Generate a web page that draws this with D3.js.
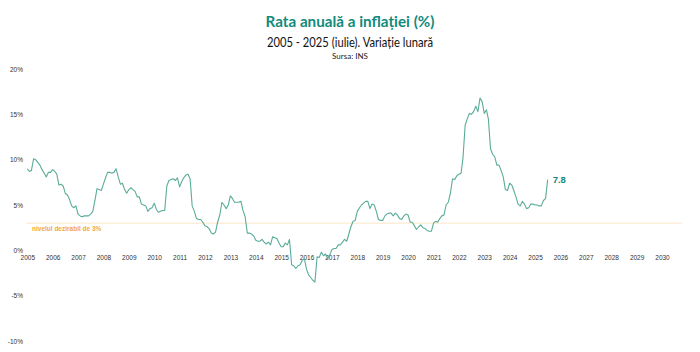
<!DOCTYPE html>
<html>
<head>
<meta charset="utf-8">
<script src="https://cdn.jsdelivr.net/npm/d3@7"></script>
<style>
  body { margin: 0; background: #fff; }
  .axis text { font-family: "Liberation Sans", Arial, sans-serif; font-size: 6.5px; fill: #333; }
</style>
</head>
<body>
<script>
// Chart data: annual inflation rate (%), monthly, Jan 2005 - Jul 2025
const startYear = 2005;
const monthlyRates = [
  9.0, 8.7, 8.8, 10.1, 10.0, 9.7, 9.4, 8.9, 8.5, 8.1, 8.6, 8.6,   // 2005
  8.9, 8.7, 8.4, 7.2, 7.3, 7.1, 6.3, 6.1, 5.6, 4.9, 4.7, 4.9,     // 2006
  4.0, 3.8, 3.7, 3.8, 3.8, 3.8, 4.0, 4.3, 5.5, 6.8, 6.7, 6.6,     // 2007
  7.3, 8.0, 8.6, 8.6, 8.5, 8.6, 9.0, 8.1, 7.3, 7.4, 6.7, 6.3,     // 2008
  6.7, 6.9, 6.7, 6.5, 5.9, 5.9, 5.1, 5.0, 4.9, 4.3, 4.6, 4.7,     // 2009
  5.2, 4.5, 4.2, 4.3, 4.4, 4.4, 7.1, 7.7, 7.8, 7.9, 7.7, 8.0,     // 2010
  7.0, 7.6, 8.0, 8.3, 8.4, 7.9, 4.9, 4.3, 3.5, 3.4, 3.4, 3.1,     // 2011
  2.7, 2.6, 2.4, 1.9, 1.8, 2.0, 3.1, 3.9, 5.3, 5.0, 4.6, 5.0,     // 2012
  6.0, 5.7, 5.3, 5.3, 5.3, 5.4, 4.4, 3.7, 1.9, 1.9, 1.8, 1.6,     // 2013
  1.1, 1.0, 1.0, 1.2, 0.9, 0.7, 0.9, 0.6, 1.5, 1.4, 1.3, 0.8,     // 2014
  0.4, 0.4, 0.8, 0.6, 1.2, -1.6, -1.7, -2.0, -1.7, -1.6, -1.1, -0.9, // 2015
  -2.1, -2.7, -3.0, -3.3, -3.5, -0.7, -0.8, -0.2, -0.6, -0.4, -0.9, -0.5, // 2016
  0.1, 0.2, 0.2, 0.6, 0.6, 0.9, 1.2, 1.0, 1.8, 2.6, 3.2, 3.3,     // 2017
  4.3, 4.7, 5.0, 5.2, 5.4, 5.4, 4.6, 5.1, 5.0, 4.3, 3.4, 3.3,     // 2018
  3.3, 3.8, 4.0, 4.1, 4.1, 3.8, 4.1, 3.9, 3.5, 3.4, 3.8, 4.0,     // 2019
  3.9, 3.1, 3.1, 2.7, 2.3, 2.6, 2.8, 2.5, 2.4, 2.2, 2.1, 2.1,     // 2020
  3.0, 3.2, 3.1, 3.5, 3.8, 3.9, 5.0, 5.3, 6.3, 7.9, 7.8, 8.2,     // 2021
  8.4, 8.5, 10.2, 13.8, 14.5, 15.1, 15.0, 15.3, 15.9, 15.3, 16.8, 16.4, // 2022
  15.1, 15.5, 14.5, 11.2, 10.6, 10.3, 9.4, 9.4, 8.8, 8.1, 6.7, 6.6, // 2023
  7.4, 7.2, 6.6, 5.9, 5.1, 4.9, 5.4, 5.1, 4.6, 4.7, 5.1, 5.1,     // 2024
  5.0, 5.0, 4.9, 4.9, 5.5, 5.7, 7.8                               // 2025
];
const yTicks = [-10, -5, 0, 5, 10, 15, 20];
const xDomainYears = [2005, 2030];
const targetRate = 3;
const targetLabel = "nivelul dezirabil de 3%";
const titleText = "Rata anuală a inflației (%)";
const subtitleText = "2005 - 2025 (iulie). Variație lunară";
const sourceText = "Sursa: INS";

const svgWidth = 700;
const svgHeight = 352;

const teal = "#128a7b";
const lineColor = "#5aac99";
const orange = "#f3a83a";

// Build dated series
const data = monthlyRates.map((v, i) => ({
  date: new Date(startYear + Math.floor(i / 12), i % 12, 1),
  rate: v
}));

const svg = d3.select("body")
  .append("svg")
  .attr("width", svgWidth)
  .attr("height", svgHeight);

// Scales
const xScale = d3.scaleTime()
  .domain(xDomainYears.map(y => new Date(y, 0, 1)))
  .range([27.3, 662]);

const yScale = d3.scaleLinear()
  .domain([-10, 20])
  .range([341, 69]);

// Titles
function fitText(sel, width) {
  sel.attr("textLength", width).attr("lengthAdjust", "spacingAndGlyphs");
}
svg.append("text")
  .attr("x", 350).attr("y", 27)
  .attr("text-anchor", "middle")
  .style("font-family", "Lato, 'Open Sans', sans-serif")
  .style("font-weight", "bold")
  .style("font-size", "15.5px")
  .style("fill", teal)
  .text(titleText)
  .call(fitText, 169);

svg.append("text")
  .attr("x", 350).attr("y", 47)
  .attr("text-anchor", "middle")
  .style("font-family", "Lato, 'Open Sans', sans-serif")
  .style("font-size", "12.5px")
  .style("fill", "#111")
  .text(subtitleText)
  .call(fitText, 166);

svg.append("text")
  .attr("x", 350).attr("y", 59)
  .attr("text-anchor", "middle")
  .style("font-family", "Lato, 'Open Sans', sans-serif")
  .style("font-size", "8px")
  .style("fill", "#222")
  .text(sourceText);

// Target line (3%)
svg.append("line")
  .attr("x1", xScale(new Date(2005, 0, 1)) - 1)
  .attr("x2", 682)
  .attr("y1", yScale(targetRate))
  .attr("y2", yScale(targetRate))
  .attr("stroke", "#fbe6c6")
  .attr("stroke-width", 1);

svg.append("text")
  .attr("x", 32)
  .attr("y", yScale(targetRate) + 8)
  .style("font-family", "'Liberation Sans', Arial, sans-serif")
  .style("font-weight", "bold")
  .style("font-size", "6.5px")
  .style("fill", orange)
  .text(targetLabel);

// Y axis
const leftAxis = d3.axisLeft(yScale)
  .tickValues(yTicks)
  .tickSize(0)
  .tickPadding(0)
  .tickFormat(d => d + "%");

svg.append("g")
  .classed("axis", true)
  .attr("transform", "translate(23,0)")
  .call(leftAxis)
  .call(g => g.select(".domain").remove());

// X axis, placed just under the zero line
const bottomAxis = d3.axisBottom(xScale)
  .ticks(d3.timeYear.every(1))
  .tickSize(0)
  .tickPadding(5)
  .tickFormat(d3.timeFormat("%Y"));

svg.append("g")
  .classed("axis", true)
  .attr("transform", `translate(0, ${yScale(0)})`)
  .call(bottomAxis)
  .call(g => g.select(".domain").remove());

// Line
const createLine = d3.line()
  .x(d => xScale(d.date))
  .y(d => yScale(d.rate));

svg.append("path")
  .attr("d", createLine(data))
  .attr("fill", "none")
  .attr("stroke", lineColor)
  .attr("stroke-width", 1.1)
  .attr("stroke-linejoin", "round");

// Last value label
const last = data[data.length - 1];
svg.append("text")
  .attr("x", xScale(last.date) + 5)
  .attr("y", yScale(last.rate) + 3.5)
  .style("font-family", "'Liberation Sans', Arial, sans-serif")
  .style("font-weight", "bold")
  .style("font-size", "9.5px")
  .style("fill", teal)
  .text(last.rate);
</script>
</body>
</html>
